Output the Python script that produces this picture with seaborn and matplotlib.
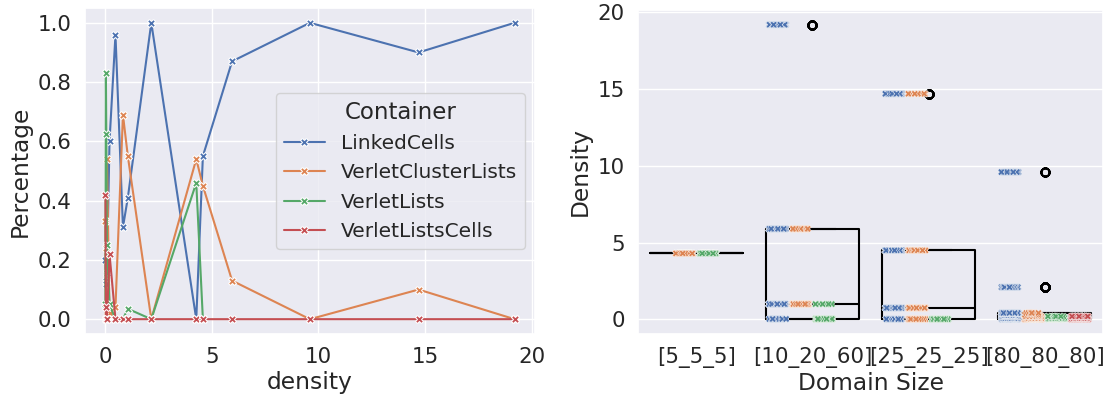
import numpy as np
import pandas as pd
import matplotlib
matplotlib.use("Agg")
import matplotlib.pyplot as plt
import seaborn as sns

# ---- share of runs won by each container, per particle density ----
containers = ["LinkedCells", "VerletClusterLists", "VerletLists", "VerletListsCells"]

density_lc = [0.01, 0.03, 0.05, 0.08, 0.2, 0.48, 0.83, 1.06, 2.16, 4.27, 4.58, 5.95, 9.6, 14.7, 19.2]
pct_lc = [0.20, 0.13, 0.12, 0.155, 0.60, 0.96, 0.31, 0.41, 1.0, 0.0, 0.55, 0.87, 1.0, 0.9, 1.0]

density_vcl = [0.01, 0.03, 0.05, 0.08, 0.2, 0.48, 0.83, 1.06, 2.16, 4.27, 4.58, 5.95, 9.6, 14.7, 19.2]
pct_vcl = [0.33, 0.0, 0.24, 0.54, 0.02, 0.04, 0.69, 0.55, 0.0, 0.54, 0.45, 0.13, 0.0, 0.1, 0.0]

density_vl = [0.01, 0.03, 0.05, 0.08, 0.2, 0.48, 0.83, 1.06, 2.16, 4.27, 4.58]
pct_vl = [0.05, 0.83, 0.625, 0.25, 0.05, 0.0, 0.0, 0.035, 0.0, 0.46, 0.0]

density_vlc = [0.01, 0.03, 0.05, 0.08, 0.2, 0.48, 0.83, 1.06, 2.16, 4.27, 4.58, 5.95, 9.6, 14.7, 19.2]
pct_vlc = [0.42, 0.04, 0.0, 0.0, 0.22, 0.0, 0.0, 0.0, 0.0, 0.0, 0.0, 0.0, 0.0, 0.0, 0.0]

# ---- individual runs: domain size, density level and how many runs each container won ----
domain_order = ["[5_5_5]", "[10_20_60]", "[25_25_25]", "[80_80_80]"]
level_domain = ["[5_5_5]",
                "[10_20_60]", "[10_20_60]", "[10_20_60]", "[10_20_60]",
                "[25_25_25]", "[25_25_25]", "[25_25_25]", "[25_25_25]",
                "[80_80_80]", "[80_80_80]", "[80_80_80]", "[80_80_80]",
                "[80_80_80]", "[80_80_80]", "[80_80_80]", "[80_80_80]"]
level_density = [4.3,
                 0.03, 1.0, 5.9, 19.2,
                 0.02, 0.75, 4.5, 14.7,
                 0.01, 0.05, 0.1, 0.2, 0.3, 0.42, 2.1, 9.6]
wins_lc = [0, 36, 108, 180, 90, 36, 81, 108, 81, 36, 27, 45, 108, 60, 216, 135, 45]
wins_vcl = [117, 0, 144, 27, 0, 126, 180, 90, 9, 63, 54, 27, 27, 9, 9, 0, 0]
wins_vl = [99, 180, 9, 0, 0, 72, 0, 0, 0, 9, 135, 18, 9, 0, 0, 0, 0]
wins_vlc = [0, 0, 0, 0, 0, 0, 0, 0, 0, 81, 9, 45, 36, 0, 0, 0, 0]

# long-form tables
line_frames = []
for name, xs, ys in zip(containers,
                        [density_lc, density_vcl, density_vl, density_vlc],
                        [pct_lc, pct_vcl, pct_vl, pct_vlc]):
    line_frames.append(pd.DataFrame({"density": xs, "Percentage": ys, "Container": name}))
pct_df = pd.concat(line_frames, ignore_index=True)

rows = []
for name, wins in zip(containers, [wins_lc, wins_vcl, wins_vl, wins_vlc]):
    for dom, dens, n in zip(level_domain, level_density, wins):
        rows.extend([(dom, dens, name)] * n)
runs_df = pd.DataFrame(rows, columns=["Domain Size", "Density", "Container"])

sns.set_theme(style="darkgrid", font_scale=1.4)
palette = sns.color_palette("deep", 4)

W, H = 1119, 394
fig = plt.figure(figsize=(W / 100, H / 100), dpi=100)
ax1 = fig.add_axes([85 / W, 1 - 334 / H, 450 / W, 326 / H])
ax2 = fig.add_axes([638 / W, 1 - 334 / H, 465 / W, 324 / H])

sns.lineplot(data=pct_df, x="density", y="Percentage", hue="Container",
             hue_order=containers, palette=palette, marker="X",
             markersize=6, ax=ax1)
ax1.legend(title="Container", loc="center right", fontsize=14.5,
           title_fontsize=16.5)
ax1.set_xlabel("density", labelpad=3)

sns.boxplot(data=runs_df, x="Domain Size", y="Density", order=domain_order,
            fill=False, color="black", linecolor="black", linewidth=1.5,
            width=0.8, whis=1.5,
            flierprops=dict(marker="o", markerfacecolor="none",
                            markeredgecolor="black", markersize=6,
                            markeredgewidth=1.0),
            ax=ax2)
sns.stripplot(data=runs_df, x="Domain Size", y="Density", order=domain_order,
              hue="Container", hue_order=containers, palette=palette,
              dodge=True, jitter=0.3, marker="X", size=5,
              edgecolor="white", linewidth=0.3, legend=False, ax=ax2)
ax2.set_xlabel("Domain Size", labelpad=3)

fig.savefig("out.png", dpi=100)
